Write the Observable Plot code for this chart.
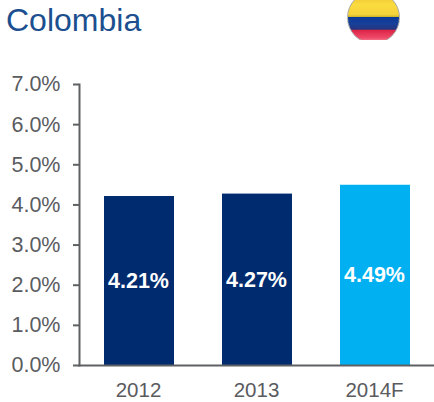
<!DOCTYPE html>
<html>
<head>
<meta charset="utf-8">
<script src="https://cdn.jsdelivr.net/npm/d3@7"></script>
<script src="https://cdn.jsdelivr.net/npm/@observablehq/plot@0.6"></script>
<style>
html,body{margin:0;padding:0;background:#fff;}
#wrap{position:relative;width:434px;height:402px;overflow:hidden;font-family:"Liberation Sans",Arial,sans-serif;}
#title{position:absolute;left:6px;top:2px;font-size:32px;line-height:36px;color:#1c4f8f;}
#flag{position:absolute;left:347px;top:-9px;width:53px;height:53px;border-radius:50%;box-sizing:border-box;border:1.5px solid #a9a9a9;
background:linear-gradient(to bottom,#e8b92a 0%,#fbdc3f 25%,#f4d23a 44%,#c9b12c 49%,#0a3a96 50%,#17409a 62%,#25357f 73%,#dd2447 75%,#f04a68 90%,#f4a0b0 100%);}
#chart{position:absolute;left:0;top:40px;}
svg{display:block;}
</style>
</head>
<body>
<div id="wrap">
<div id="title">Colombia</div>
<div id="flag"></div>
<div id="chart"></div>
</div>
<script>
const years = ["2012","2013","2014F"];
const rates = [4.21,4.27,4.49];
const barColors = ["#002b6f","#002b6f","#00b0f0"];
const yTicks = [0,1,2,3,4,5,6,7];
const rows = years.map((year,i)=>({year,rate:rates[i],color:barColors[i]}));
const axisColor = "#5f6064";
const chart = Plot.plot({
  width:434,height:362,
  marginLeft:79,marginRight:0,marginTop:44,marginBottom:37,
  style:{fontFamily:"'Liberation Sans',Arial,sans-serif",background:"#fff"},
  x:{domain:years,paddingInner:0.41,paddingOuter:0.205,label:null},
  y:{domain:[0,7],label:null},
  marks:[
    Plot.barY(rows,{x:"year",y:"rate",fill:"color"}),
    Plot.text(rows,{x:"year",y:d=>d.rate/2,dx:-1,text:d=>d.rate.toFixed(2)+"%",fill:"#fff",fontWeight:"bold",fontSize:21.5}),
    Plot.axisY({ticks:yTicks,tickFormat:d=>d.toFixed(1)+"%",tickSize:6,tickPadding:13,stroke:axisColor,strokeWidth:2,strokeOpacity:1,fill:"#5a5b5f",fontSize:21.5,label:null}),
    Plot.axisX({tickSize:0,tickPadding:17,dx:-1,fill:"#5a5b5f",fontSize:20.5,label:null}),
    Plot.frame({anchor:"left",stroke:axisColor,strokeWidth:2}),
    Plot.frame({anchor:"bottom",stroke:axisColor,strokeWidth:2})
  ]
});
document.getElementById("chart").appendChild(chart);
</script>
</body>
</html>
